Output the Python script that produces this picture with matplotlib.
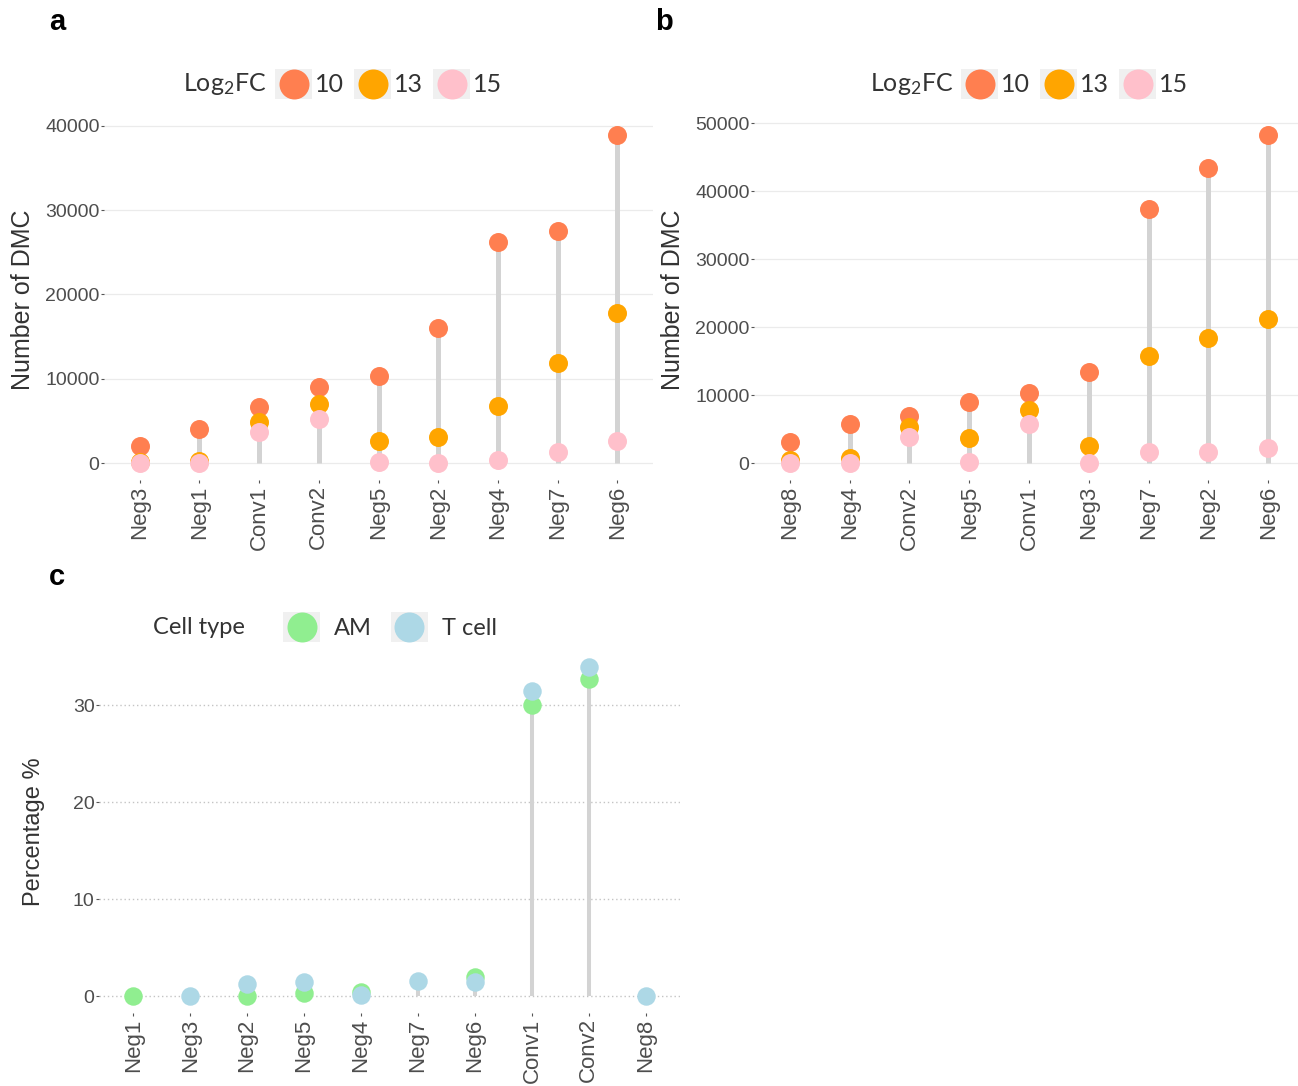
import numpy as np
import matplotlib
matplotlib.use("Agg")
import matplotlib.pyplot as plt
from matplotlib.lines import Line2D
from matplotlib.patches import Rectangle
from matplotlib.legend_handler import HandlerBase
from matplotlib.ticker import MultipleLocator
from matplotlib.font_manager import FontProperties

plt.rcParams['font.family'] = ['Liberation Sans', 'DejaVu Sans']
plt.rcParams['mathtext.fontset'] = 'custom'
plt.rcParams['mathtext.rm'] = 'Lato'
plt.rcParams['mathtext.it'] = 'Lato'
plt.rcParams['mathtext.default'] = 'regular'

# ---------------- data ----------------
a_cats = ["Neg3", "Neg1", "Conv1", "Conv2", "Neg5", "Neg2", "Neg4", "Neg7", "Neg6"]
a_fc10 = [2080, 4070, 6630, 9060, 10290, 16050, 26260, 27560, 38870]
a_fc13 = [150, 250, 4850, 7000, 2650, 3120, 6800, 11900, 17770]
a_fc15 = [0, 0, 3660, 5220, 100, 50, 320, 1270, 2650]

b_cats = ["Neg8", "Neg4", "Conv2", "Neg5", "Conv1", "Neg3", "Neg7", "Neg2", "Neg6"]
b_fc10 = [3190, 5740, 6960, 9020, 10290, 13480, 37350, 43330, 48190]
b_fc13 = [500, 740, 5390, 3780, 7840, 2600, 15780, 18480, 21180]
b_fc15 = [0, 50, 3820, 250, 5780, 0, 1720, 1720, 2200]

fc_labels = ["10", "13", "15"]
fc_colors = ["#FF7F50", "#FFA500", "#FFC0CB"]

c_cats = ["Neg1", "Neg3", "Neg2", "Neg5", "Neg4", "Neg7", "Neg6", "Conv1", "Conv2", "Neg8"]
c_am = [0.0, np.nan, 0.05, 0.3, 0.45, np.nan, 2.0, 30.0, 32.7, np.nan]
c_tcell = [np.nan, 0.0, 1.2, 1.45, 0.1, 1.55, 1.45, 31.5, 33.9, 0.0]
cell_labels = ["AM", "T cell"]
cell_colors = ["#90EE90", "#ADD8E6"]

# ---------------- layout helpers ----------------
W, H = 1298, 1086
fig = plt.figure(figsize=(W / 100, H / 100), dpi=100)
fig.patch.set_facecolor("white")

def axes_px(l, t, r, b):
    return fig.add_axes([l / W, 1 - b / H, (r - l) / W, (b - t) / H])

TICK_COL = "#4d4d4d"
TITLE_COL = "#333333"
STEM_COL = "#d3d3d3"


class KeyHandler(HandlerBase):
    def __init__(self, ms):
        super().__init__()
        self.ms = ms

    def create_artists(self, legend, orig_handle, xdescent, ydescent,
                       width, height, fontsize, trans):
        r = Rectangle((-xdescent, -ydescent), width, height,
                      facecolor="#f0f0f0", edgecolor="none", transform=trans)
        d = Line2D([-xdescent + width / 2], [-ydescent + height / 2],
                   marker="o", linestyle="none", markersize=self.ms,
                   markerfacecolor=orig_handle.get_markerfacecolor(),
                   markeredgewidth=0, transform=trans)
        return [r, d]


def lollipop(ax, cats, series, colors, dot_s, stem_lw, grid_style, ystep,
             ylabel, labelpad, ylabel_size):
    x = np.arange(len(cats))
    arr = np.array(series, dtype=float)
    top = np.nanmax(arr, axis=0)
    ax.vlines(x, 0, top, color=STEM_COL, lw=stem_lw, zorder=1)
    for vals, c in zip(series, colors):
        ax.scatter(x, vals, s=dot_s, color=c, linewidths=0, zorder=3)
    ymax = np.nanmax(top)
    ax.set_ylim(-0.05 * ymax, 1.05 * ymax)
    ax.set_xlim(-0.6, len(cats) - 0.4)
    ax.yaxis.set_major_locator(MultipleLocator(ystep))
    ax.set_xticks(x)
    ax.set_xticklabels(cats, rotation=90, fontsize=16, color=TICK_COL)
    ax.tick_params(axis="y", labelsize=14, labelcolor=TICK_COL, length=2.2,
                   width=0.8, color="#555555", pad=1)
    ax.tick_params(axis="x", length=2.2, width=0.8, color="#555555", pad=2)
    for s in ax.spines.values():
        s.set_visible(False)
    if grid_style == "solid":
        ax.grid(axis="y", color="#ebebeb", lw=0.9, ls="-", zorder=0)
    else:
        ax.grid(axis="y", color="#c4c4c4", lw=1.0, ls=(0, (1, 2)), zorder=0)
    ax.set_axisbelow(True)
    ax.set_ylabel(ylabel, fontsize=ylabel_size, color=TITLE_COL,
                  labelpad=labelpad)


def add_legend(ax, title, labels, colors, title_x, box_x, yc, fs, ms,
               textpad, colspace):
    handles = [Line2D([], [], marker="o", linestyle="none",
                      markerfacecolor=c) for c in colors]
    fig.text(title_x / W, 1 - yc / H, title, ha="left", va="center",
             fontsize=fs, family="Lato", color=TITLE_COL)
    leg = ax.legend(handles, labels, loc="center left",
                    bbox_to_anchor=(box_x / W, 1 - yc / H),
                    bbox_transform=fig.transFigure, ncol=len(labels),
                    frameon=False, borderpad=0, borderaxespad=0,
                    handlelength=37 / (fs * 100 / 72),
                    handleheight=38 / (fs * 100 / 72),
                    handletextpad=textpad, columnspacing=colspace,
                    prop=FontProperties(family="Lato", size=fs),
                    labelcolor=TITLE_COL,
                    handler_map={Line2D: KeyHandler(ms)})
    return leg


# ---------------- panel a ----------------
ax_a = axes_px(104, 119, 653, 479.5)
lollipop(ax_a, a_cats, [a_fc10, a_fc13, a_fc15], fc_colors, 187, 3.6,
         "solid", 10000, "Number of DMC", 7, 18)
add_legend(ax_a, "Log$_2$FC", fc_labels, fc_colors, 183, 275, 84, 18, 21.6,
           0.12, 0.4)

# ---------------- panel b ----------------
ax_b = axes_px(754, 119, 1304, 479.7)
lollipop(ax_b, b_cats, [b_fc10, b_fc13, b_fc15], fc_colors, 187, 3.6,
         "solid", 10000, "Number of DMC", 7, 18)
add_legend(ax_b, "Log$_2$FC", fc_labels, fc_colors, 870, 961, 84, 18, 21.6,
           0.12, 0.4)

# ---------------- panel c ----------------
ax_c = axes_px(99, 651, 680, 1012.5)
lollipop(ax_c, c_cats, [c_am, c_tcell], cell_colors, 177, 2.9,
         "dotted", 10, "Percentage %", 20, 17)
add_legend(ax_c, "Cell type", cell_labels, cell_colors, 153, 283, 627, 17,
           21.6, 0.6, 0.8)

# ---------------- panel letters ----------------
for letter, (px, py) in zip(["a", "b", "c"], [(57, 22), (664, 22), (57, 577)]):
    fig.text(px / W, 1 - py / H, letter, ha="center", va="center",
             fontsize=21, weight="bold", color="black")

fig.savefig("out.png", dpi=100, facecolor="white")
